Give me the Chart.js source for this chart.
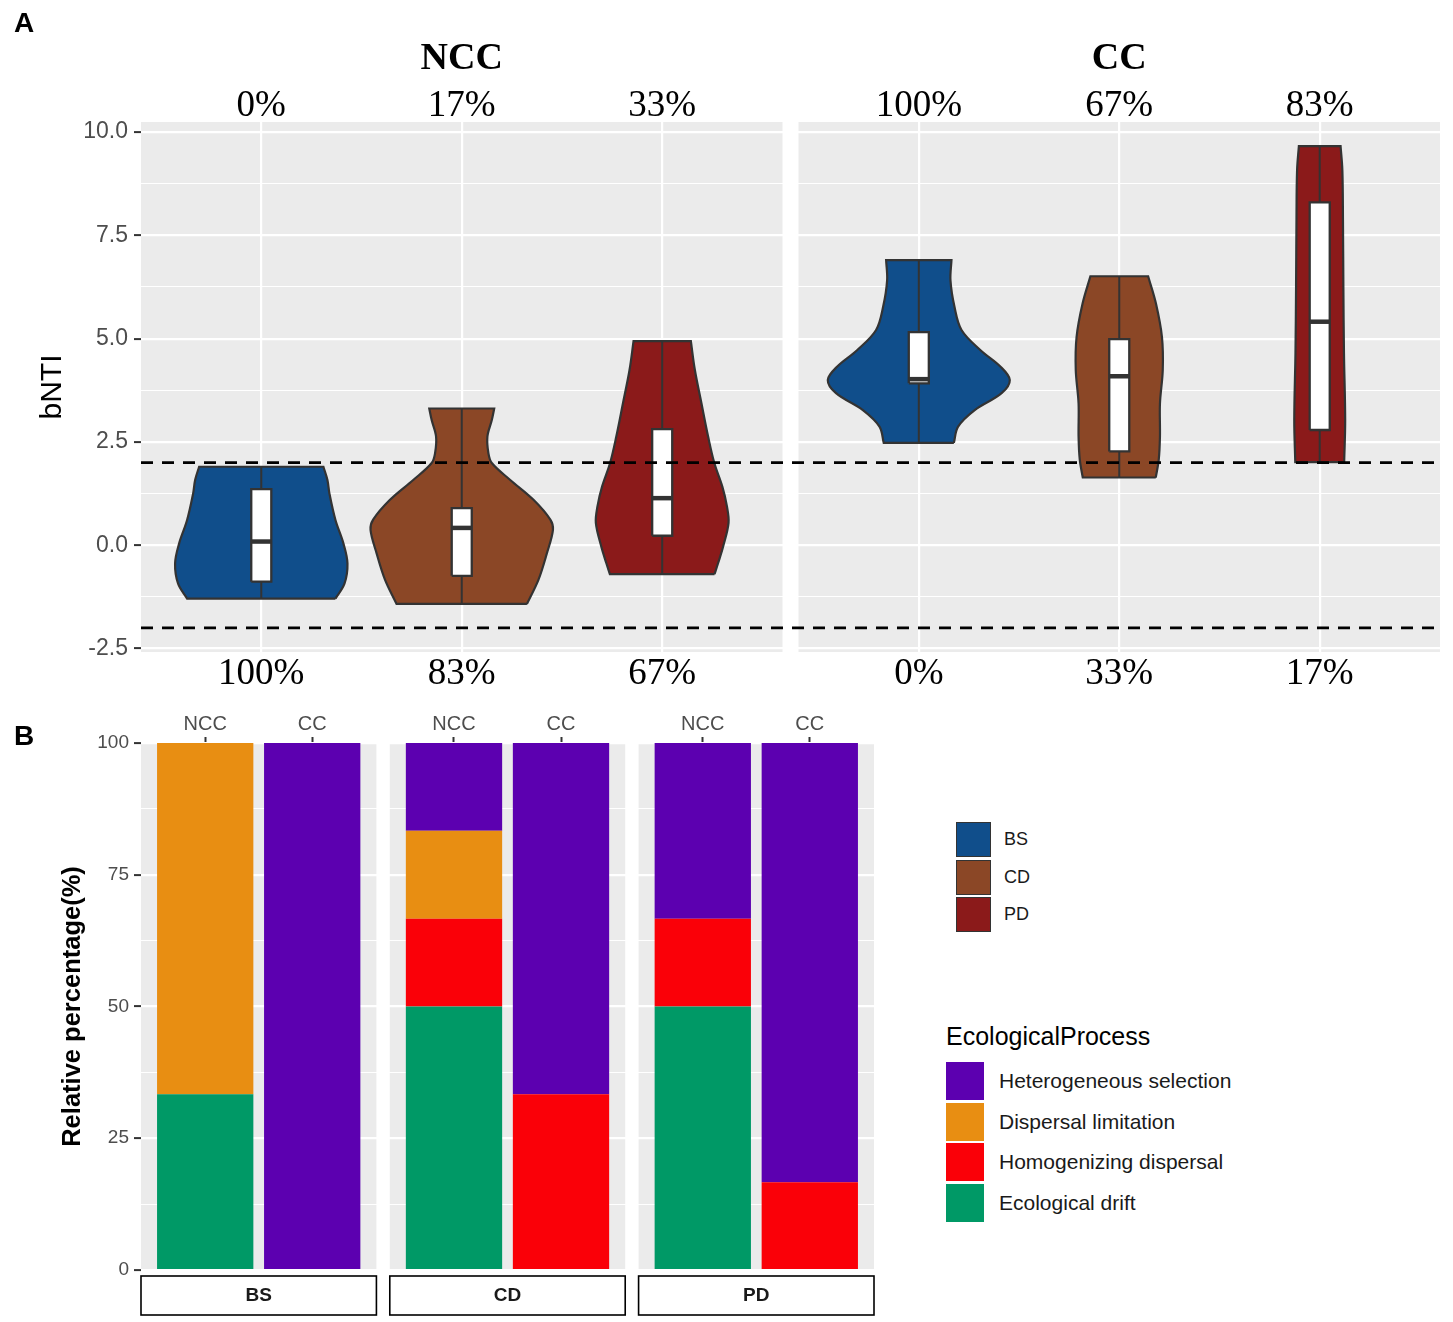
<!DOCTYPE html>
<html>
<head>
<meta charset="utf-8">
<script src="https://cdn.jsdelivr.net/npm/chart.js@4.4.1/dist/chart.umd.min.js"></script>
<style>
  body { margin: 0; background: #fff; }
  #wrap { position: relative; width: 1453px; height: 1322px; font-family: 'Liberation Sans', Arial, sans-serif; color: #000; }
  #cA { position: absolute; left: 0; top: 0; }
  #cB { position: absolute; left: 0; top: 700px; }
  .tag { position: absolute; left: 14px; font-weight: bold; font-size: 28px; line-height: 30px; }
  .key { position: absolute; box-sizing: border-box; }
  .lab { position: absolute; white-space: nowrap; }
</style>
</head>
<body>
<div id="wrap">
  <canvas id="cA" width="1453" height="700"></canvas>
  <canvas id="cB" width="900" height="622"></canvas>
  <div class="tag" style="top:8px">A</div>
  <div class="tag" style="top:721px">B</div>
  <div id="legends"></div>
</div>
<script>
Chart.defaults.font.family = "'Liberation Sans', Arial, sans-serif";

// ---------- panel A : bNTI violins ----------
const facetsA = ['NCC', 'CC'];
const groupsA = ['BS', 'CD', 'PD'];
const topLabelsA = ['0%', '17%', '33%', '100%', '67%', '83%'];
const bottomLabelsA = ['100%', '83%', '67%', '0%', '33%', '17%'];
const posA = [1, 2, 3, 4.28, 5.28, 6.28];
const groupColors = ['#104E8B', '#8B4726', '#8B1A1A'];
const bntiTicks = [-2.5, -1.25, 0, 1.25, 2.5, 3.75, 5, 6.25, 7.5, 8.75, 10];
const thresholds = [2, -2];

// violin outlines: bNTI level and half width, bottom to top
const vBsNccY = [-1.29, -0.93, -0.44, 0.04, 0.61, 1.25, 1.58, 1.90];
const vBsNccW = [0.37, 0.415, 0.43, 0.41, 0.37, 0.34, 0.33, 0.31];
const vCdNccY = [-1.42, -0.83, -0.19, 0.37, 0.62, 1.10, 1.58, 1.99, 2.23, 2.63, 3.03, 3.31];
const vCdNccW = [0.325, 0.383, 0.425, 0.455, 0.442, 0.358, 0.242, 0.15, 0.133, 0.128, 0.15, 0.162];
const vPdNccY = [-0.70, -0.43, -0.03, 0.54, 0.94, 1.42, 1.99, 2.63, 3.43, 4.24, 4.94];
const vPdNccW = [0.261, 0.279, 0.304, 0.331, 0.323, 0.30, 0.26, 0.229, 0.196, 0.163, 0.143];
const vBsCcY = [2.48, 2.87, 3.27, 3.68, 4.00, 4.32, 4.72, 5.21, 5.77, 6.41, 6.90];
const vBsCcW = [0.175, 0.196, 0.279, 0.413, 0.454, 0.408, 0.308, 0.213, 0.178, 0.158, 0.163];
const vCdCcY = [1.64, 2.07, 2.63, 3.43, 4.24, 5.04, 5.85, 6.51];
const vCdCcW = [0.182, 0.197, 0.203, 0.203, 0.217, 0.213, 0.183, 0.144];
const vPdCcY = [2.01, 3.03, 4.64, 6.25, 7.86, 9.07, 9.66];
const vPdCcW = [0.122, 0.127, 0.121, 0.118, 0.116, 0.113, 0.104];

// box stats: min, q1, median, q3, max
const boxBsNcc = [-1.29, -0.88, 0.09, 1.36, 1.90];
const boxCdNcc = [-1.42, -0.74, 0.42, 0.90, 3.31];
const boxPdNcc = [-0.70, 0.23, 1.14, 2.81, 4.94];
const boxBsCc = [2.48, 3.92, 4.02, 5.16, 6.90];
const boxCdCc = [1.64, 2.27, 4.09, 4.99, 6.51];
const boxPdCc = [2.01, 2.79, 5.41, 8.30, 9.66];

const violinsY = [vBsNccY, vCdNccY, vPdNccY, vBsCcY, vCdCcY, vPdCcY];
const violinsW = [vBsNccW, vCdNccW, vPdNccW, vBsCcW, vCdCcW, vPdCcW];
const boxes = [boxBsNcc, boxCdNcc, boxPdNcc, boxBsCc, boxCdCc, boxPdCc];

// ---------- panel B : ecological processes ----------
const habitatsB = ['BS', 'CD', 'PD'];
const treatmentsB = ['NCC', 'CC'];
const posB = [1, 2, 3.325, 4.325, 5.65, 6.65];
const pctTicks = [0, 12.5, 25, 37.5, 50, 62.5, 75, 87.5, 100];
const processes = ['Ecological drift', 'Homogenizing dispersal', 'Dispersal limitation', 'Heterogeneous selection'];
const processColors = ['#009966', '#FA0008', '#E88E12', '#5C00B0'];
const drift = [33.33, 0, 50, 0, 50, 0];
const homogenizing = [0, 0, 16.67, 33.33, 16.67, 16.67];
const dispersalLim = [66.67, 0, 16.67, 0, 0, 0];
const heterogeneous = [0, 100, 16.66, 66.67, 33.33, 83.33];

// closed outline of one violin, corners doubled so flat ends stay straight
function outline(c, ys, ws) {
    const n = ys.length;
    const pts = [{x: c + ws[0], y: ys[0]}];
    for (let i = 0; i < n; i++) pts.push({x: c + ws[i], y: ys[i]});
    pts.push({x: c + ws[n - 1], y: ys[n - 1]});
    pts.push({x: c - ws[n - 1], y: ys[n - 1]});
    for (let i = n - 1; i >= 0; i--) pts.push({x: c - ws[i], y: ys[i]});
    pts.push({x: c - ws[0], y: ys[0]});
    pts.push({x: c + ws[0], y: ys[0]});
    pts.push({x: c + ws[0], y: ys[0]});
    return pts;
}

const isMajor = (v, step) => Math.abs(v / step - Math.round(v / step)) < 1e-6;

const dsA = [];
posA.forEach((c, i) => {
    const b = boxes[i];
    dsA.push({ data: outline(c, violinsY[i], violinsW[i]), backgroundColor: groupColors[i % 3],
        borderColor: '#333', borderWidth: 2.2, fill: 'shape', tension: 0.35, order: 6 });
    dsA.push({ data: [{x: c, y: b[0]}, {x: c, y: b[4]}], borderColor: '#333', borderWidth: 2, order: 5 });
    dsA.push({ data: [{x: c - 0.05, y: b[1]}, {x: c + 0.05, y: b[1]}, {x: c + 0.05, y: b[3]},
        {x: c - 0.05, y: b[3]}, {x: c - 0.05, y: b[1]}],
        backgroundColor: '#fff', borderColor: '#333', borderWidth: 2.3, fill: 'shape', order: 4 });
    dsA.push({ data: [{x: c - 0.05, y: b[2]}, {x: c + 0.05, y: b[2]}], borderColor: '#333', borderWidth: 4.5, order: 3 });
});
thresholds.forEach(t => {
    dsA.push({ data: [{x: 0.4, y: t}, {x: 6.88, y: t}], borderColor: '#000', borderWidth: 2.8,
        borderDash: [12, 9], order: 1 });
});
dsA.forEach(d => { d.showLine = true; d.pointRadius = 0; d.borderJoinStyle = 'miter'; });

const facetBgA = {
    id: 'facetBgA',
    beforeDraw(chart) {
        const {ctx, chartArea: a, scales: {x}} = chart;
        ctx.save();
        ctx.fillStyle = '#ebebeb';
        for (let f = 0; f < facetsA.length; f++) {
            const l = x.getPixelForValue(posA[f * 3] - 0.6);
            const r = x.getPixelForValue(posA[f * 3 + 2] + 0.6);
            ctx.fillRect(l, a.top, r - l, a.bottom - a.top);
        }
        ctx.restore();
    },
    afterDraw(chart) {
        const {ctx, scales: {x}} = chart;
        ctx.save();
        ctx.font = 'bold 38px "Liberation Serif"';
        ctx.fillStyle = '#000';
        ctx.textAlign = 'center';
        ctx.textBaseline = 'middle';
        facetsA.forEach((f, i) => ctx.fillText(f, x.getPixelForValue(posA[i * 3 + 1]), 59));
        ctx.restore();
    }
};

const serif = {family: "'Liberation Serif', 'Times New Roman', serif", size: 37, lineHeight: 1};

new Chart(document.getElementById('cA'), {
    type: 'scatter',
    data: { datasets: dsA },
    plugins: [facetBgA],
    options: {
        responsive: false,
        animation: false,
        devicePixelRatio: 1,
        layout: { padding: {left: 31, right: 13, top: 72, bottom: 8} },
        plugins: { legend: {display: false}, tooltip: {enabled: false} },
        scales: {
            x: {
                type: 'linear', position: 'bottom', min: 0.4, max: 6.88,
                afterBuildTicks: s => { s.ticks = posA.map(v => ({value: v})); },
                afterFit: s => { s.height = 40; },
                grid: { color: '#fff', lineWidth: 2.2, drawTicks: false },
                border: { display: false },
                ticks: { autoSkip: false, maxRotation: 0, padding: 4, color: '#000', font: serif,
                    callback: (v, i) => bottomLabelsA[i] }
            },
            x2: {
                type: 'linear', position: 'top', min: 0.4, max: 6.88,
                afterBuildTicks: s => { s.ticks = posA.map(v => ({value: v})); },
                afterFit: s => { s.height = 50; },
                grid: { display: false, drawTicks: false },
                border: { display: false },
                ticks: { autoSkip: false, maxRotation: 0, padding: -3, color: '#000', font: serif,
                    callback: (v, i) => topLabelsA[i] }
            },
            y: {
                min: -2.583, max: 10.243,
                afterBuildTicks: s => { s.ticks = bntiTicks.map(v => ({value: v})); },
                afterFit: s => { s.width = 110; },
                grid: {
                    color: '#fff',
                    lineWidth: c => isMajor(c.tick.value, 2.5) ? 2.2 : 1.1,
                    tickColor: c => isMajor(c.tick.value, 2.5) ? '#333' : 'rgba(0,0,0,0)',
                    tickLength: 7, tickWidth: 2
                },
                border: { display: false },
                ticks: { padding: 6, color: '#4d4d4d', font: {size: 23},
                    callback: v => isMajor(v, 2.5) ? v.toFixed(1) : '' },
                title: { display: true, text: 'bNTI', color: '#000', font: {size: 30}, padding: {top: 4, bottom: 4} }
            }
        }
    }
});

// ---------- panel B chart ----------
const facetB = {
    id: 'facetB',
    beforeDraw(chart) {
        const {ctx, chartArea: a, scales: {x}} = chart;
        ctx.save();
        ctx.fillStyle = '#ebebeb';
        for (let f = 0; f < habitatsB.length; f++) {
            const l = x.getPixelForValue(posB[f * 2] - 0.6);
            const r = x.getPixelForValue(posB[f * 2 + 1] + 0.6);
            ctx.fillRect(l, a.top, r - l, a.bottom - a.top);
        }
        ctx.restore();
    },
    afterDraw(chart) {
        const {ctx, chartArea: a, scales: {x}} = chart;
        ctx.save();
        ctx.font = 'bold 19px "Liberation Sans"';
        ctx.textAlign = 'center';
        ctx.textBaseline = 'middle';
        ctx.lineWidth = 1.6;
        ctx.strokeStyle = '#000';
        habitatsB.forEach((h, f) => {
            const l = x.getPixelForValue(posB[f * 2] - 0.6);
            const r = x.getPixelForValue(posB[f * 2 + 1] + 0.6);
            ctx.fillStyle = '#fff';
            ctx.fillRect(l, a.bottom + 6, r - l, 39);
            ctx.strokeRect(l, a.bottom + 6, r - l, 39);
            ctx.fillStyle = '#1a1a1a';
            ctx.fillText(h, (l + r) / 2, a.bottom + 26);
        });
        ctx.restore();
    }
};

const dsB = [drift, homogenizing, dispersalLim, heterogeneous].map((vals, k) => ({
    label: processes[k],
    data: vals.map((v, i) => ({x: posB[i], y: v})),
    backgroundColor: processColors[k],
    borderWidth: 0,
    barPercentage: 0.9,
    categoryPercentage: 1
}));

new Chart(document.getElementById('cB'), {
    type: 'bar',
    data: { datasets: dsB },
    plugins: [facetB],
    options: {
        responsive: false,
        animation: false,
        devicePixelRatio: 1,
        layout: { padding: {left: 55, right: 26, top: 0, bottom: 52} },
        plugins: { legend: {display: false}, tooltip: {enabled: false} },
        scales: {
            x: {
                type: 'linear', position: 'top', min: 0.4, max: 7.25, offset: false, stacked: true,
                afterBuildTicks: s => { s.ticks = posB.map(v => ({value: v})); },
                afterFit: s => { s.height = 43; },
                grid: { offset: false, drawOnChartArea: false, drawTicks: true, tickLength: 6, tickColor: '#333', tickWidth: 2 },
                border: { display: false },
                ticks: { autoSkip: false, maxRotation: 0, padding: 1, color: '#4d4d4d', font: {size: 20},
                    callback: (v, i) => treatmentsB[i % 2] }
            },
            y: {
                stacked: true, min: 0, max: 100,
                afterBuildTicks: s => { s.ticks = pctTicks.map(v => ({value: v})); },
                afterFit: s => { s.width = 86; },
                grid: {
                    color: '#fff',
                    lineWidth: c => isMajor(c.tick.value, 25) ? 2.2 : 1.1,
                    tickColor: c => isMajor(c.tick.value, 25) ? '#333' : 'rgba(0,0,0,0)',
                    tickLength: 7, tickWidth: 2
                },
                border: { display: false },
                ticks: { padding: 5, color: '#4d4d4d', font: {size: 19},
                    callback: v => isMajor(v, 25) ? String(v) : '' },
                title: { display: true, text: 'Relative percentage(%)', color: '#000',
                    font: {size: 25.5, weight: 'bold'}, padding: {top: 3, bottom: 4} }
            }
        }
    }
});

// ---------- legends ----------
const leg = document.getElementById('legends');
function addDiv(cls, css, text) {
    const d = document.createElement('div');
    d.className = cls;
    d.style.cssText = css;
    if (text) d.textContent = text;
    leg.appendChild(d);
}
groupsA.forEach((g, i) => {
    const top = 822 + i * 37.5;
    addDiv('key', `left:956px;top:${top}px;width:35px;height:35px;background:${groupColors[i]};border:1.6px solid #333;`);
    addDiv('lab', `left:1004px;top:${top}px;height:35px;line-height:35px;font-size:18px;color:#1a1a1a;`, g);
});
addDiv('lab', 'left:946px;top:1021px;line-height:30px;font-size:25px;', 'EcologicalProcess');
processes.slice().reverse().forEach((p, i) => {
    const top = 1062 + i * 40.7;
    const col = processColors[processes.length - 1 - i];
    addDiv('key', `left:946px;top:${top}px;width:38px;height:38px;background:${col};`);
    addDiv('lab', `left:999px;top:${top}px;height:38px;line-height:38px;font-size:21px;color:#1a1a1a;`, p);
});
</script>
</body>
</html>
